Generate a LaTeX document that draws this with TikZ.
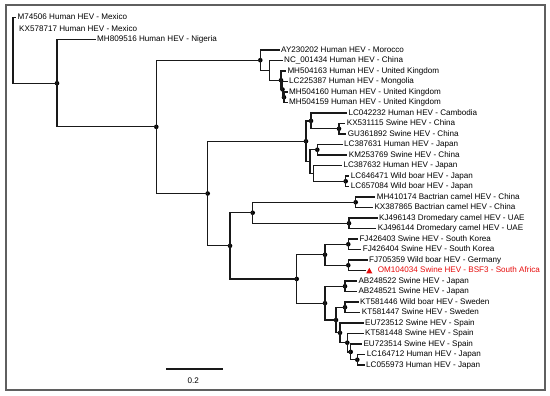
\documentclass[tikz,border=0pt]{standalone}
\usepackage{fontspec}
\setmainfont{Liberation Sans}
\usepackage{tikz}
\definecolor{rougeSA}{RGB}{230,10,10}
\definecolor{cadregris}{RGB}{95,95,95}

\begin{document}
\begin{tikzpicture}[x=1pt,y=-1pt,
    feuille/.style={anchor=west,inner sep=1.5pt,text height=5.8pt,text depth=1.6pt,font=\fontsize{8.1}{9}\selectfont},
    branche/.style={line width=1.25pt,black!90},
    noeudint/.style={circle,fill=black,inner sep=0pt,minimum size=4.6pt}]
    \useasboundingbox (0,0) rectangle (550,396);
    % Cadre
    \draw[cadregris,line width=1.4pt] (6,5) rectangle (545,390);

    % Noeuds internes
    \coordinate (racine) at (13,83.2);
    \node[noeudint] (r0) at (57,83.2) {};
    \node[noeudint] (u) at (156.3,126.85) {};
    \node[noeudint] (a1) at (260.3,60.2) {};
    \coordinate (a2) at (269.3,70.35);
    \node[noeudint] (a3) at (281,80.2) {};
    \node[noeudint] (a4) at (282.5,89.4) {};
    \node[noeudint] (a5) at (284,97.25) {};
    \node[noeudint] (n1) at (207.7,193.5) {};
    \node[noeudint] (e) at (306,141.2) {};
    \node[noeudint] (k1) at (311,120.9) {};
    \node[noeudint] (k2) at (339,128.75) {};
    \coordinate (f1) at (310,161.6);
    \node[noeudint] (g) at (317.3,149.75) {};
    \coordinate (h) at (313.3,173.4);
    \node[noeudint] (i) at (345.7,181.25) {};
    \node[noeudint] (d) at (230,245.85) {};
    \node[noeudint] (j) at (252.7,212.75) {};
    \node[noeudint] (kc) at (355.7,202.25) {};
    \node[noeudint] (l) at (349,223.25) {};
    \node[noeudint] (b0) at (296.7,278.95) {};
    \node[noeudint] (b1) at (325,254.75) {};
    \node[noeudint] (b2) at (348.3,244.25) {};
    \node[noeudint] (b3) at (348.3,265.25) {};
    \node[noeudint] (c) at (325,303.15) {};
    \node[noeudint] (m) at (345,286.25) {};
    \node[noeudint] (n) at (336,320.05) {};
    \node[noeudint] (o) at (345,307.25) {};
    \node[noeudint] (p) at (340,332.85) {};
    \node[noeudint] (q) at (347.3,342.7) {};
    \node[noeudint] (r) at (350.7,351.9) {};
    \node[noeudint] (s) at (357.3,359.75) {};

    % Feuilles (souches)
    \node[feuille] (M74506) at (16,17.5) {M74506 Human HEV - Mexico};
    \node[feuille] (KX578717) at (17.5,29) {KX578717 Human HEV - Mexico};
    \node[feuille] (MH809516) at (95.5,39.5) {MH809516 Human HEV - Nigeria};
    \node[feuille] (AY230202) at (279.5,50) {AY230202 Human HEV - Morocco};
    \node[feuille] (NC001434) at (282.5,60.5) {NC\_001434 Human HEV - China};
    \node[feuille] (MH504163) at (285.8,71) {MH504163 Human HEV - United Kingdom};
    \node[feuille] (LC225387) at (287.5,81.5) {LC225387 Human HEV - Mongolia};
    \node[feuille] (MH504160) at (287.5,92) {MH504160 Human HEV - United Kingdom};
    \node[feuille] (MH504159) at (287.5,102.5) {MH504159 Human HEV - United Kingdom};
    \node[feuille] (LC042232) at (346.8,113) {LC042232 Human HEV - Cambodia};
    \node[feuille] (KX531115) at (345.2,123.5) {KX531115 Swine HEV - China};
    \node[feuille] (GU361892) at (346.2,134) {GU361892 Swine HEV - China};
    \node[feuille] (LC387631) at (342.5,144.5) {LC387631 Human HEV - Japan};
    \node[feuille] (KM253769) at (347.2,155) {KM253769 Swine HEV - China};
    \node[feuille] (LC387632) at (341.8,165.5) {LC387632 Human HEV - Japan};
    \node[feuille] (LC646471) at (349.2,176) {LC646471 Wild boar HEV - Japan};
    \node[feuille] (LC657084) at (349.2,186.5) {LC657084 Wild boar HEV - Japan};
    \node[feuille] (MH410174) at (375.2,197) {MH410174 Bactrian camel HEV - China};
    \node[feuille] (KX387865) at (372.8,207.5) {KX387865 Bactrian camel HEV - China};
    \node[feuille] (KJ496143) at (377.5,218) {KJ496143 Dromedary camel HEV - UAE};
    \node[feuille] (KJ496144) at (376.2,228.5) {KJ496144 Dromedary camel HEV - UAE};
    \node[feuille] (FJ426403) at (357.8,239) {FJ426403 Swine HEV - South Korea};
    \node[feuille] (FJ426404) at (361.2,249.5) {FJ426404 Swine HEV - South Korea};
    \node[feuille] (FJ705359) at (367.5,260) {FJ705359 Wild boar HEV - Germany};
    \coordinate (boutOM) at (366,270.5);
    \node[feuille,text=rougeSA] (OM104034) at (376.2,270.5) {OM104034 Swine HEV - BSF3 - South Africa};
    \node[feuille] (AB248522) at (356.8,281) {AB248522 Swine HEV - Japan};
    \node[feuille] (AB248521) at (356.8,291.5) {AB248521 Swine HEV - Japan};
    \node[feuille] (KT581446) at (358.5,302) {KT581446 Wild boar HEV - Sweden};
    \node[feuille] (KT581447) at (360.2,312.5) {KT581447 Swine HEV - Sweden};
    \node[feuille] (EU723512) at (363.5,323) {EU723512 Swine HEV - Spain};
    \node[feuille] (KT581448) at (363.5,333.5) {KT581448 Swine HEV - Spain};
    \node[feuille] (EU723514) at (361.8,344) {EU723514 Swine HEV - Spain};
    \node[feuille] (LC164712) at (365.2,354.5) {LC164712 Human HEV - Japan};
    \node[feuille] (LC055973) at (364.5,365) {LC055973 Human HEV - Japan};

    % Branches
    \draw[branche] (r0.center) -- (racine) |- (M74506.west);
    \draw[branche] (r0.center) |- (MH809516.west);
    \draw[branche] (r0.center) |- (u.center);
    \draw[branche] (u.center) |- (a1.center);
    \draw[branche] (u.center) |- (n1.center);
    \draw[branche] (a1.center) |- (AY230202.west);
    \draw[branche] (a1.center) |- (a2);
    \draw[branche] (a2) |- (NC001434.west);
    \draw[branche] (a2) |- (a3.center);
    \draw[branche] (a3.center) |- (MH504163.west);
    \draw[branche] (a3.center) |- (a4.center);
    \draw[branche] (a4.center) |- (LC225387.west);
    \draw[branche] (a4.center) |- (a5.center);
    \draw[branche] (a5.center) |- (MH504160.west);
    \draw[branche] (a5.center) |- (MH504159.west);
    \draw[branche] (n1.center) |- (e.center);
    \draw[branche] (n1.center) |- (d.center);
    \draw[branche] (e.center) |- (k1.center);
    \draw[branche] (e.center) |- (f1);
    \draw[branche] (k1.center) |- (LC042232.west);
    \draw[branche] (k1.center) |- (k2.center);
    \draw[branche] (k2.center) |- (KX531115.west);
    \draw[branche] (k2.center) |- (GU361892.west);
    \draw[branche] (f1) |- (g.center);
    \draw[branche] (f1) |- (h);
    \draw[branche] (g.center) |- (LC387631.west);
    \draw[branche] (g.center) |- (KM253769.west);
    \draw[branche] (h) |- (LC387632.west);
    \draw[branche] (h) |- (i.center);
    \draw[branche] (i.center) |- (LC646471.west);
    \draw[branche] (i.center) |- (LC657084.west);
    \draw[branche] (d.center) |- (j.center);
    \draw[branche] (d.center) |- (b0.center);
    \draw[branche] (j.center) |- (kc.center);
    \draw[branche] (j.center) |- (l.center);
    \draw[branche] (kc.center) |- (MH410174.west);
    \draw[branche] (kc.center) |- (KX387865.west);
    \draw[branche] (l.center) |- (KJ496143.west);
    \draw[branche] (l.center) |- (KJ496144.west);
    \draw[branche] (b0.center) |- (b1.center);
    \draw[branche] (b0.center) |- (c.center);
    \draw[branche] (b1.center) |- (b2.center);
    \draw[branche] (b1.center) |- (b3.center);
    \draw[branche] (b2.center) |- (FJ426403.west);
    \draw[branche] (b2.center) |- (FJ426404.west);
    \draw[branche] (b3.center) |- (FJ705359.west);
    \draw[branche] (b3.center) |- (boutOM);
    \draw[branche] (c.center) |- (m.center);
    \draw[branche] (c.center) |- (n.center);
    \draw[branche] (m.center) |- (AB248522.west);
    \draw[branche] (m.center) |- (AB248521.west);
    \draw[branche] (n.center) |- (o.center);
    \draw[branche] (n.center) |- (p.center);
    \draw[branche] (o.center) |- (KT581446.west);
    \draw[branche] (o.center) |- (KT581447.west);
    \draw[branche] (p.center) |- (EU723512.west);
    \draw[branche] (p.center) |- (q.center);
    \draw[branche] (q.center) |- (KT581448.west);
    \draw[branche] (q.center) |- (r.center);
    \draw[branche] (r.center) |- (EU723514.west);
    \draw[branche] (r.center) |- (s.center);
    \draw[branche] (s.center) |- (LC164712.west);
    \draw[branche] (s.center) |- (LC055973.west);

    % Souche sud-africaine
    \fill[rougeSA] (366.3,273.3) -- (372.3,273.3) -- (369.3,267.8) -- cycle;

    % Barre d'echelle
    \coordinate (ech1) at (166,369);
    \coordinate (ech2) at (222.7,369);
    \draw[branche] (ech1) -- (ech2);
    \node[font=\fontsize{8.1}{9}\selectfont] (echelle) at (193.3,380.7) {0.2};
\end{tikzpicture}
\end{document}
